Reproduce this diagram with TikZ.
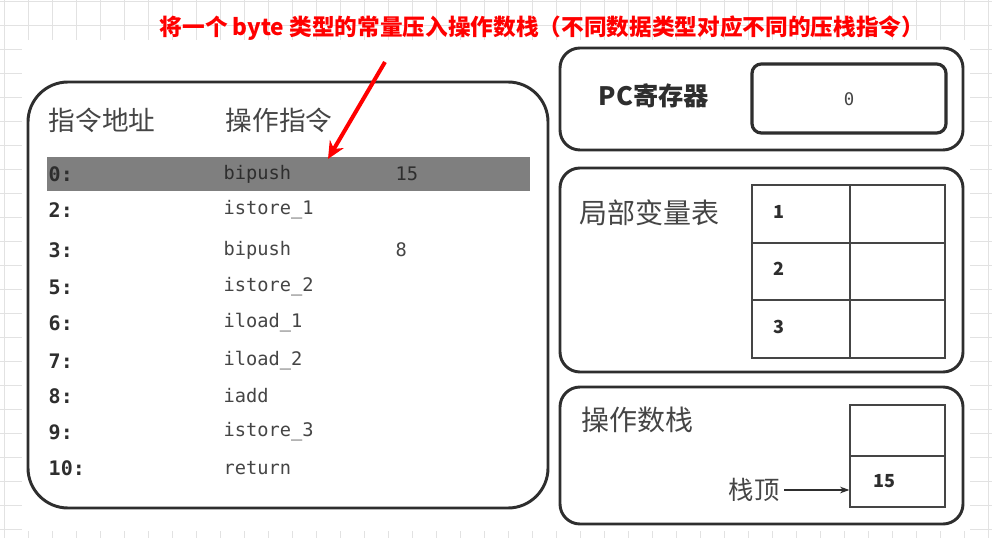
\documentclass[tikz,border=0pt]{standalone}
\usepackage{fontspec}
\setmainfont{Noto Sans CJK SC}
\setmonofont{DejaVu Sans Mono}
\usetikzlibrary{arrows.meta}

\definecolor{frame}{HTML}{2E2E2E}
\definecolor{inkgray}{HTML}{454545}
\definecolor{barfill}{HTML}{7F7F7F}
\definecolor{gridgray}{HTML}{E2E2E2}

\begin{document}
\begin{tikzpicture}[x=0.75pt,y=-0.75pt,>=Stealth,
  panel/.style={draw=frame,line width=2.2pt,rounded corners=15pt},
  bigpanel/.style={panel,rounded corners=30pt},
  label/.style={anchor=west,text=inkgray,font=\fontsize{20}{24}\selectfont},
  addr/.style={anchor=west,text=frame,font=\ttfamily\bfseries\fontsize{15}{18}\selectfont},
  instr/.style={anchor=west,text=inkgray,font=\ttfamily\fontsize{14}{17}\selectfont},
  cellnum/.style={text=frame,font=\bfseries\fontsize{13.5}{16}\selectfont}]
  \useasboundingbox (0,0) rectangle (992,538);

  % grid behind the screenshot
  \foreach \gx in {4,28,...,988} \draw[gridgray,line width=0.6pt] (\gx,0) -- (\gx,538);
  \foreach \gy in {1,25,...,537} \draw[gridgray,line width=0.6pt] (0,\gy) -- (992,\gy);
  \fill[white] (22,40) rectangle (970,531);

  \node[text=red,font=\bfseries\fontsize{17}{21}\selectfont] (title) at (542,28)
    {将一个 byte 类型的常量压入操作数栈（不同数据类型对应不同的压栈指令）};

  % instruction list
  \draw[bigpanel] (28,82) rectangle (548,508);
  \node[label] (hdaddr) at (44,120) {指令地址};
  \node[label] (hdinstr) at (221,120) {操作指令};
  \node[fill=barfill,minimum width=362pt,minimum height=25.5pt,inner sep=0pt] (row0) at (288.5,174) {};
  \foreach \a/\ins/\arg/\yy/\tc [count=\k] in {0:/bipush/15/174/frame,2:/istore\_1//210/inkgray,
      3:/bipush/8/250/inkgray,5:/istore\_2//287/inkgray,6:/iload\_1//323/inkgray,7:/iload\_2//361/inkgray,
      8:/iadd//396/inkgray,9:/istore\_3//432/inkgray,10:/return//468/inkgray}{
    \node[addr] (a\k) at (44,\yy) {\a};
    \node[instr,text=\tc] (i\k) at (219,\yy) {\ins};
    \node[instr,text=\tc] (o\k) at (391,\yy) {\arg};
  }
  \coordinate (pin) at (385,62);
  \coordinate (aim) at (328,159);
  \draw[->,red,line width=3pt,arrows={-Stealth[length=13pt,width=12pt]}] (pin) -- (aim);

  % pc register
  \draw[panel] (560,48) rectangle (963,150);
  \node[anchor=west,text=frame,font=\bfseries\fontsize{19}{23}\selectfont] (pc) at (594,96) {PC寄存器};
  \draw[draw=frame,line width=2.4pt,rounded corners=7pt] (752,64) rectangle (946,133);
  \node[text=inkgray,font=\ttfamily\fontsize{13}{16}\selectfont] (pcval) at (849,99) {0};

  % local variables
  \draw[panel] (560,168) rectangle (963,372);
  \node[label,font=\fontsize{21}{25}\selectfont] (locals) at (575,213) {局部变量表};
  \draw[inkgray,line width=1.2pt] (752,185) rectangle (945,358);
  \draw[inkgray,line width=1.2pt] (850,185) -- (850,358);
  \draw[inkgray,line width=1.2pt] (752,243) -- (945,243);
  \draw[inkgray,line width=1.2pt] (752,300) -- (945,300);
  \foreach \n/\yy in {1/212,2/269,3/327}
    \node[cellnum] (lv\n) at (779,\yy) {\n};

  % operand stack
  \draw[panel] (560,387) rectangle (963,524);
  \node[label,font=\fontsize{21}{25}\selectfont] (stack) at (577,420) {操作数栈};
  \node[draw=inkgray,line width=1.2pt,minimum width=71pt,minimum height=38pt,inner sep=0pt] (slot) at (897.5,430.5) {};
  \node[draw=inkgray,line width=1.2pt,minimum width=71pt,minimum height=38pt,inner sep=0pt] (top) at (897.5,481.5) {};
  \node[cellnum] (topval) at (884,481) {15};
  \node[text=inkgray,font=\fontsize{19}{23}\selectfont] (toplbl) at (754,490) {栈顶};
  \draw[->,frame,line width=1pt,arrows={-Stealth[length=7pt,width=5pt]}] (toplbl.east) -- (top.west |- toplbl.east);
\end{tikzpicture}
\end{document}
